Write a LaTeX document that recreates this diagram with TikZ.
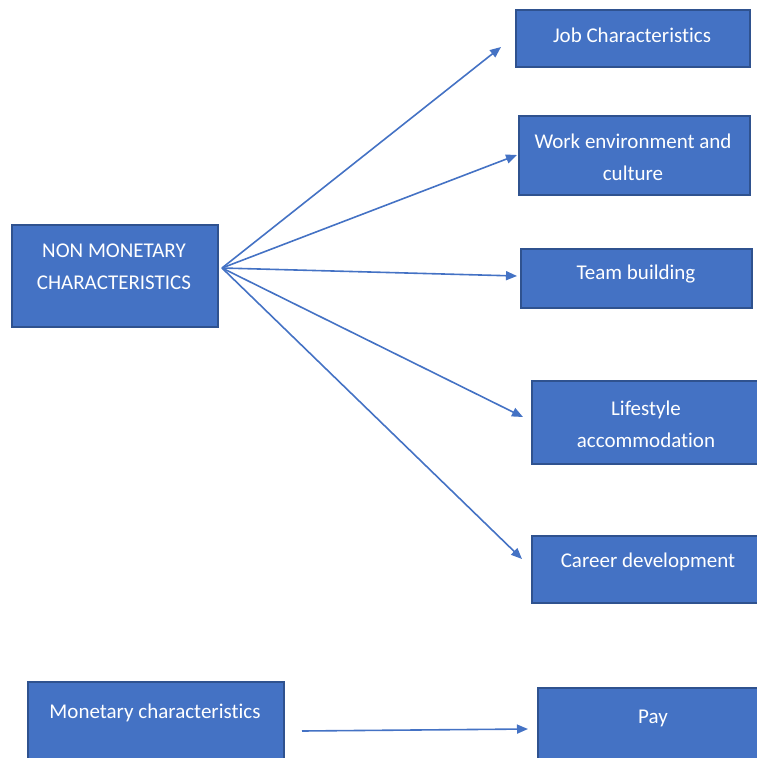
\documentclass[tikz,border=0pt]{standalone}
\usepackage{fontspec}
\setmainfont{Carlito}[Ligatures={NoCommon}]
\usetikzlibrary{arrows.meta}
\definecolor{boxfill}{HTML}{4472C4}
\definecolor{boxline}{HTML}{2F528F}
\tikzset{
 box/.style={draw=boxline, fill=boxfill, line width=1.5pt, inner sep=0pt, anchor=north west},
 lbl/.style={text=white, font=\fontsize{21}{32}\selectfont, align=center, inner sep=0pt},
 conn/.style={draw=boxfill, line width=1.6pt, -{Triangle[length=11pt,width=9pt]}}
}
\begin{document}
\begin{tikzpicture}[x=1pt,y=-1pt]
\useasboundingbox (0,0) rectangle (757,758);
% boxes
\node[box, minimum width=206pt, minimum height=102pt] (non) at (11,224) {};
\node[box, minimum width=234pt, minimum height=57pt] (job) at (515,9) {};
\node[box, minimum width=231pt, minimum height=79pt] (work) at (518,115) {};
\node[box, minimum width=231pt, minimum height=59pt] (team) at (520,248) {};
\node[box, minimum width=228pt, minimum height=83pt] (life) at (531,380) {};
\node[box, minimum width=228pt, minimum height=67pt] (career) at (531,535) {};
\node[box, minimum width=256pt, minimum height=80pt] (mon) at (27,681) {};
\node[box, minimum width=222pt, minimum height=74pt] (pay) at (537,687) {};
% labels
\node[lbl] (tnon) at (114,267) {NON MONETARY\\CHARACTERISTICS};
\node[lbl] (tjob) at (632,35) {Job Characteristics};
\node[lbl] (twork) at (633,157) {Work environment and\\culture};
\node[lbl] (tteam) at (636,274) {Team building};
\node[lbl] (tlife) at (646,424) {Lifestyle\\accommodation};
\node[lbl] (tcareer) at (648,562) {Career development};
\node[lbl] (tmon) at (155,713) {Monetary characteristics};
\node[lbl] (tpay) at (653,718) {Pay};
% connector ends
\coordinate (src) at (222,268);
\coordinate (ejob) at (501,47);
\coordinate (ework) at (517,155);
\coordinate (eteam) at (517,276);
\coordinate (elife) at (523,417);
\coordinate (ecareer) at (522,559);
\coordinate (smon) at (302,731);
\coordinate (epay) at (528,729);
\draw[conn] (src) -- (ejob);
\draw[conn] (src) -- (ework);
\draw[conn] (src) -- (eteam);
\draw[conn] (src) -- (elife);
\draw[conn] (src) -- (ecareer);
\draw[conn] (smon) -- (epay);
\end{tikzpicture}
\end{document}
